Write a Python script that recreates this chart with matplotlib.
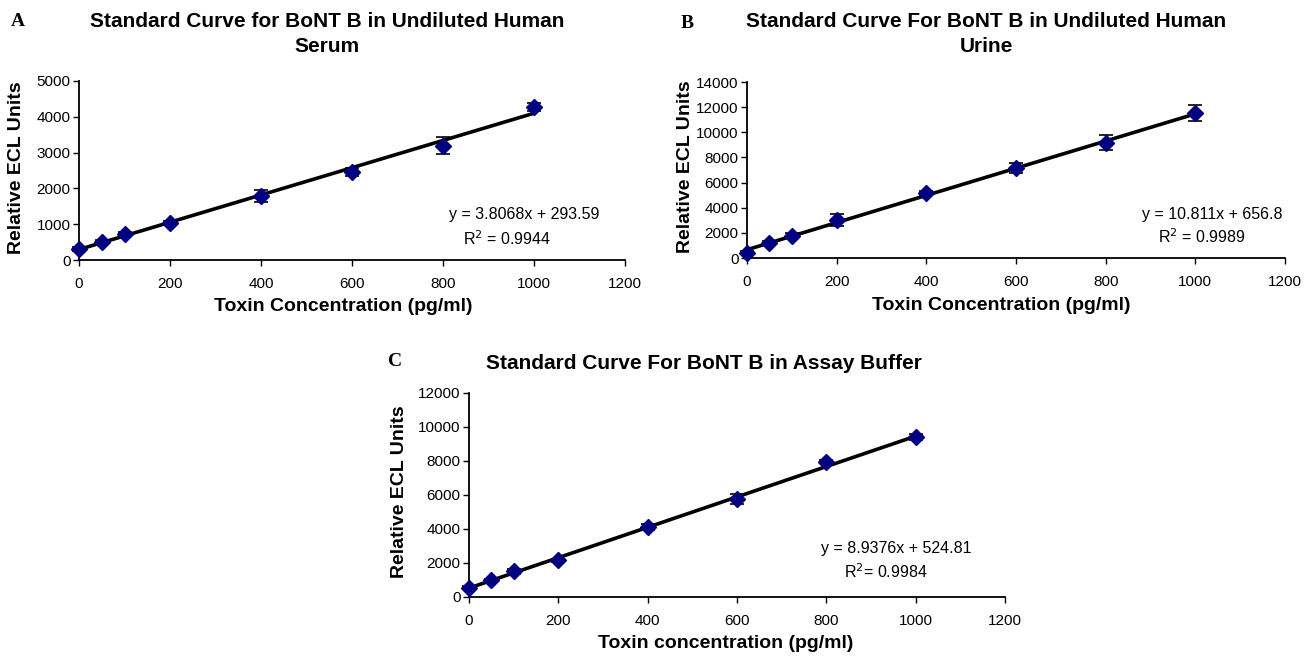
import numpy as np
import matplotlib
matplotlib.use("Agg")
import matplotlib.pyplot as plt

plt.rcParams['font.family'] = ['Liberation Sans', 'DejaVu Sans']

# toxin concentration (pg/ml)
conc = [0, 50, 100, 200, 400, 600, 800, 1000]

# A: undiluted human serum
serum_y = [307, 511, 726, 1025, 1790, 2466, 3190, 4283]
serum_err = [50, 60, 60, 60, 176, 110, 233, 110]
# B: undiluted human urine
urine_y = [422, 1170, 1780, 3030, 5155, 7147, 9187, 11530]
urine_err = [120, 150, 180, 500, 150, 425, 600, 640]
# C: assay buffer
buffer_y = [553, 982, 1512, 2158, 4118, 5747, 7959, 9412]
buffer_err = [100, 100, 150, 100, 150, 300, 100, 180]

slopes = [3.8068, 10.811, 8.9376]
intercepts = [293.59, 656.8, 524.81]
eq_texts = ["y = 3.8068x + 293.59", "y = 10.811x + 656.8", "y = 8.9376x + 524.81"]
r2_texts = ["R$^2$ = 0.9944", "R$^2$ = 0.9989", "R$^2$= 0.9984"]
titles = ["Standard Curve for BoNT B in Undiluted Human\nSerum",
          "Standard Curve For BoNT B in Undiluted Human\nUrine",
          "Standard Curve For BoNT B in Assay Buffer"]
xlabels = ["Toxin Concentration (pg/ml)", "Toxin Concentration (pg/ml)",
           "Toxin concentration (pg/ml)"]
ymax = [5000, 14000, 12000]
ystep = [1000, 2000, 2000]

fig = plt.figure(figsize=(13.14, 6.57), dpi=100)
W, H = 1314, 657

# axes boxes in pixels: left, right, top, bottom
boxes = [(79, 625, 81, 260), (747, 1285, 82, 258), (469, 1005, 393, 597)]
# equation: centre x, y of eq line, centre x, y of R2 line (px)
eq_pos = [(524, 215, 507, 239), (1212, 215, 1202, 237), (896, 548, 886, 572)]
title_pos = [(327, 12), (986, 12), (704, 354)]
letters = [("A", 18, 22), ("B", 687, 24), ("C", 395, 362)]
xlab_pos = [(343, 307), (1001, 305), (726, 644)]
ylab_x = [17, 685, 400]

all_y = [serum_y, urine_y, buffer_y]
all_err = [serum_err, urine_err, buffer_err]

for i in range(3):
    l, r, t, b = boxes[i]
    ax = fig.add_axes([l / W, 1 - b / H, (r - l) / W, (b - t) / H])
    xs = np.array([0, 1000])
    ax.plot(xs, slopes[i] * xs + intercepts[i], color='black', lw=2.6, zorder=2)
    ax.errorbar(conc, all_y[i], yerr=all_err[i], fmt='D', color='#000080',
                ms=8, ecolor='black', elinewidth=1.2, capsize=5, capthick=1.2,
                zorder=3, clip_on=False)
    ax.set_xlim(0, 1200)
    ax.set_ylim(0, ymax[i])
    ax.set_xticks(range(0, 1201, 200))
    ax.set_yticks(range(0, ymax[i] + 1, ystep[i]))
    for s in ['top', 'right']:
        ax.spines[s].set_visible(False)
    for s in ['left', 'bottom']:
        ax.spines[s].set_linewidth(1.3)
    ax.tick_params(labelsize=11, length=4, width=1.0, direction='out')
    ax.tick_params(axis='x', pad=8)
    ax.tick_params(axis='y', pad=2)

    ex, ey, rx, ry = eq_pos[i]
    fig.text(ex / W, 1 - ey / H, eq_texts[i], ha='center', va='center', fontsize=11.5)
    fig.text(rx / W, 1 - ry / H, r2_texts[i], ha='center', va='center', fontsize=11.5)

    tx, ty = title_pos[i]
    fig.text(tx / W, 1 - ty / H, titles[i], ha='center', va='top', fontsize=15,
             fontweight='bold', linespacing=1.4)
    let, lx, ly = letters[i]
    fig.text(lx / W, 1 - ly / H, let, ha='center', va='center', fontsize=14,
             fontweight='bold', family='Liberation Serif')
    xx, xy = xlab_pos[i]
    fig.text(xx / W, 1 - xy / H, xlabels[i], ha='center', va='center',
             fontsize=14, fontweight='bold')
    fig.text(ylab_x[i] / W, 1 - ((t + b) / 2 - 3) / H, "Relative ECL Units",
             ha='center', va='center', rotation=90, fontsize=14, fontweight='bold')

fig.savefig("out.png", dpi=100)
